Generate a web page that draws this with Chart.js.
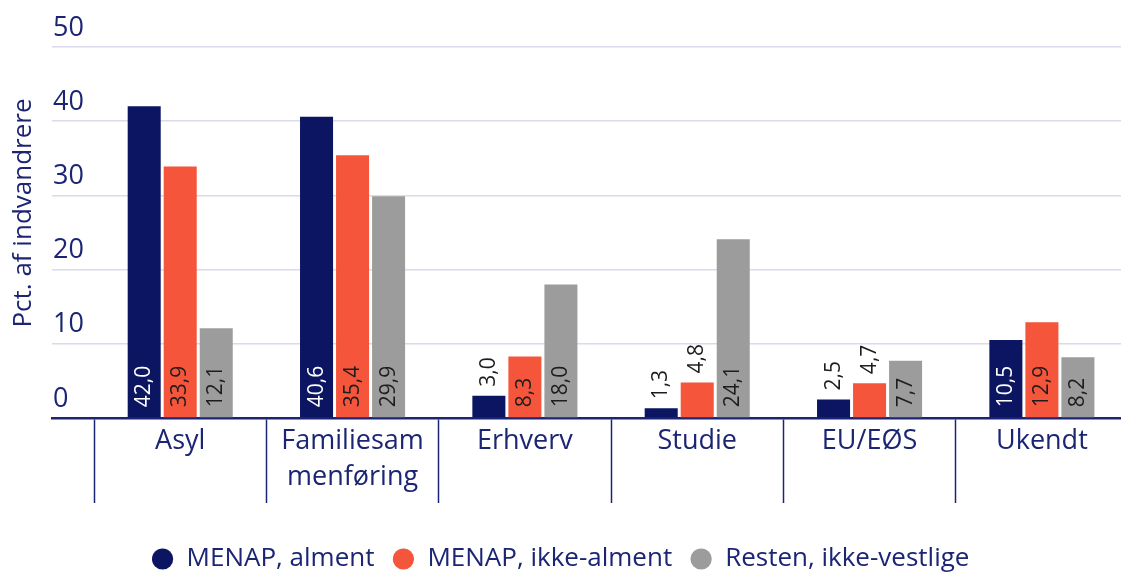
<!DOCTYPE html>
<html>
<head>
<meta charset="utf-8">
<script src="https://cdn.jsdelivr.net/npm/chart.js@4"></script>
<style>
  html, body { margin: 0; padding: 0; background: #fff; overflow: hidden; }
</style>
</head>
<body>
<canvas id="chart" width="1121" height="582"></canvas>
<script>
// categories and series
const categories = ['Asyl', ['Familiesam', 'menføring'], 'Erhverv', 'Studie', 'EU/EØS', 'Ukendt']
const menapAlment = [42.0, 40.6, 3.0, 1.3, 2.5, 10.5]
const menapIkkeAlment = [33.9, 35.4, 8.3, 4.8, 4.7, 12.9]
const restenIkkeVestlige = [12.1, 29.9, 18.0, 24.1, 7.7, 8.2]
const seriesNames = ['MENAP, alment', 'MENAP, ikke-alment', 'Resten, ikke-vestlige']
const yTicks = [0, 10, 20, 30, 40, 50]

const NAVY = '#1b2574'
const FONT = "'Open Sans', sans-serif"

// bars sit on a linear x axis so the category slots can start a bit in from the y gridlines
const toPoints = arr => arr.map((v, i) => ({ x: i, y: v }))

// value labels, rotated, at the foot of the bar or just above it when the bar is too short
const valueLabels = {
  id: 'valueLabels',
  afterDatasetsDraw(chart) {
    const ctx = chart.ctx
    ctx.save()
    ctx.font = '21px ' + FONT
    ctx.textBaseline = 'middle'
    ctx.textAlign = 'left'
    chart.data.datasets.forEach((ds, di) => {
      const meta = chart.getDatasetMeta(di)
      meta.data.forEach((bar, i) => {
        const txt = ds.data[i].y.toFixed(1).replace('.', ',')
        const w = ctx.measureText(txt).width
        const h = bar.base - bar.y
        let y, color
        if (h >= w + 18) {
          y = bar.base - 10
          color = di === 0 ? '#ffffff' : '#1d1d1d'
        } else {
          y = bar.y - 9
          color = '#1d1d1d'
        }
        ctx.save()
        ctx.translate(bar.x, y)
        ctx.rotate(-Math.PI / 2)
        ctx.fillStyle = color
        ctx.fillText(txt, 0, 0)
        ctx.restore()
      })
    })
    ctx.restore()
  }
}

new Chart(document.getElementById('chart'), {
  type: 'bar',
  data: {
    datasets: [
      { label: seriesNames[0], data: toPoints(menapAlment), backgroundColor: '#0b1562' },
      { label: seriesNames[1], data: toPoints(menapIkkeAlment), backgroundColor: '#f5563b' },
      { label: seriesNames[2], data: toPoints(restenIkkeVestlige), backgroundColor: '#9c9c9c' }
    ]
  },
  options: {
    responsive: false,
    animation: false,
    layout: { padding: { top: 47, left: 0, right: 0, bottom: 0 } },
    datasets: { bar: { categoryPercentage: 0.627, barPercentage: 0.917, borderWidth: 0 } },
    plugins: {
      tooltip: { enabled: false },
      legend: {
        position: 'bottom',
        labels: {
          usePointStyle: true,
          pointStyle: 'circle',
          boxWidth: 22,
          boxHeight: 15,
          padding: 18,
          color: NAVY,
          font: { family: FONT, size: 26 }
        }
      }
    },
    scales: {
      x: {
        type: 'linear',
        min: -0.744,
        max: 5.459,
        bounds: 'data',
        offset: false,
        afterBuildTicks: s => { s.ticks = categories.map((c, i) => ({ value: i })) },
        afterFit: s => { s.height = 110 },
        grid: {
          offset: true,
          drawOnChartArea: false,
          tickLength: 85,
          tickColor: NAVY,
          tickWidth: 1.5
        },
        border: { color: NAVY, width: 2.5 },
        ticks: {
          autoSkip: false,
          maxRotation: 0,
          padding: -80,
          color: NAVY,
          font: { family: FONT, size: 27, lineHeight: 1.333 },
          callback: v => categories[v]
        }
      },
      y: {
        min: 0,
        max: 50,
        afterBuildTicks: s => { s.ticks = yTicks.map(v => ({ value: v })) },
        afterFit: s => { s.width = 52 },
        grid: {
          drawTicks: false,
          lineWidth: 1.5,
          color: c => (c.tick && c.tick.value === 0 ? NAVY : '#dadaec')
        },
        border: { display: false },
        title: {
          display: true,
          // en spaces in front push the centred title up a little, as in the original
          text: '\u2002\u2002\u2002Pct. af indvandrere',
          color: NAVY,
          padding: { top: 8, bottom: 0 },
          font: { family: FONT, size: 26 }
        },
        ticks: {
          mirror: true,
          padding: 1,
          labelOffset: -19,
          color: NAVY,
          font: { family: FONT, size: 27 }
        }
      }
    }
  },
  plugins: [valueLabels]
})
</script>
</body>
</html>
